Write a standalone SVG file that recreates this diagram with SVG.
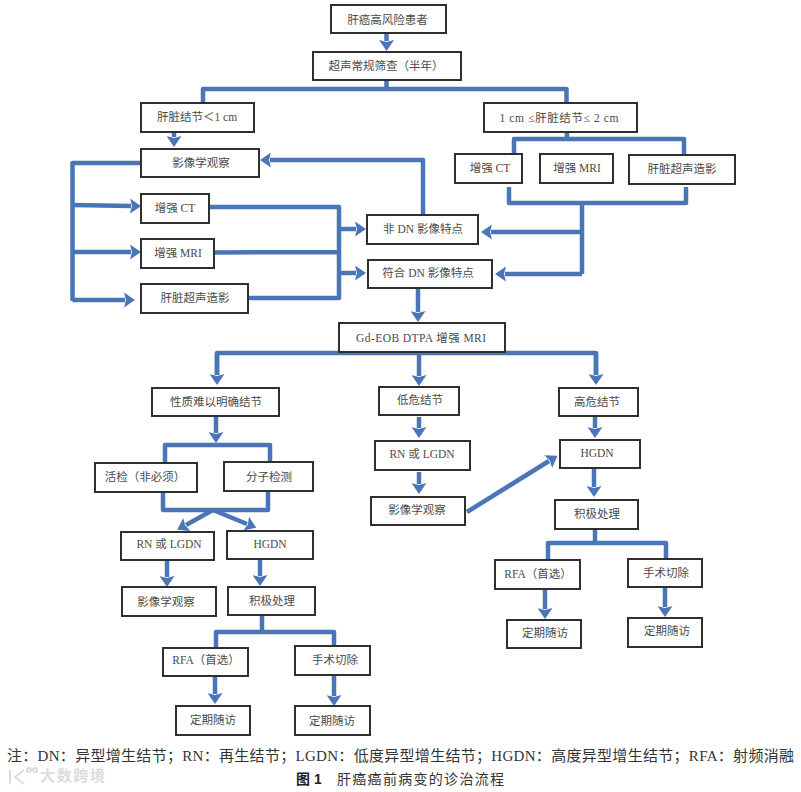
<svg xmlns="http://www.w3.org/2000/svg" width="801" height="792" viewBox="0 0 801 792">
<style>
text{font-family:"Liberation Serif","Noto Sans CJK SC",serif;fill:#4a4a4a}
.n rect{fill:#fff;stroke:#2f2f2f;stroke-width:2}
.n text{font-size:11.5px;text-anchor:middle}
#connectors path{fill:none;stroke:#4a76b8;stroke-width:4.500;stroke-linejoin:round}
.a{marker-end:url(#ah)}
.cap{font-size:15px;fill:#333}
</style>
<defs><marker id="ah" markerUnits="userSpaceOnUse" markerWidth="12" markerHeight="15" viewBox="0 0 12 15" refX="1" refY="7.500" orient="auto"><path d="M0 0L11 7.500L0 15L2 7.500Z" fill="#4a76b8"/></marker></defs>
<rect width="801" height="792" fill="#fff"/>
<g id="connectors">
<path class="a" d="M386.500 33V41"/>
<path d="M386.500 80V89M203 103V89H566.500V103"/>
<path class="a" d="M174 132V137"/>
<path d="M141 163H72.500V301"/>
<path class="a" d="M72.500 205L131 206"/>
<path class="a" d="M72.500 252H131"/>
<path class="a" d="M72.500 300H125"/>
<path d="M208 207H339V298H249M214 252.500L339 252"/>
<path class="a" d="M339 229H356"/>
<path class="a" d="M339 273H356"/>
<path class="a" d="M423 215V160H270"/>
<path class="a" d="M418 288V312"/>
<path d="M567 132V139M514 154V139H684V154"/>
<path d="M509 187V203H686V187M582 203V274"/>
<path class="a" d="M582 232H491"/>
<path class="a" d="M582 274H505"/>
<path d="M217 375V353H596V375"/>
<path class="a" d="M217 353V375"/>
<path class="a" d="M419 353V376"/>
<path class="a" d="M596 353V375"/>
<path class="a" d="M216 416V433"/>
<path d="M165 462V445H270V462"/>
<path d="M163 492V510H268V491"/>
<path class="a" d="M213 510L186 525"/>
<path class="a" d="M213 510L247 524"/>
<path class="a" d="M167 560V577"/>
<path class="a" d="M260 559V576"/>
<path d="M262 615V632M216 648V632H334V646"/>
<path class="a" d="M215 676V694"/>
<path class="a" d="M334 675V696"/>
<path class="a" d="M419 417V428"/>
<path class="a" d="M419 472V484"/>
<path class="a" d="M595 416V428"/>
<path class="a" d="M594 469V487"/>
<path class="a" d="M467 512L549 461"/>
<path d="M595 529V543M548 560V543H666V559"/>
<path class="a" d="M545 589V609"/>
<path class="a" d="M665 587V607"/>
</g>
<g id="n1" class="n"><rect x="331" y="5" width="115" height="28"/><text x="387.500" y="24">肝癌高风险患者</text></g>
<g id="n2" class="n"><rect x="313" y="52" width="148" height="28"/><text x="386" y="70">超声常规筛查（半年）</text></g>
<g id="n3" class="n"><rect x="141" y="103" width="113" height="29"/><text x="197" y="121">肝脏结节＜1 cm</text></g>
<g id="n4" class="n"><rect x="484" y="103" width="153" height="29"/><text x="559" y="122" textLength="119">1 cm ≤肝脏结节≤ 2 cm</text></g>
<g id="n5" class="n"><rect x="141" y="149" width="118" height="28"/><text x="201" y="167">影像学观察</text></g>
<g id="n6" class="n"><rect x="455" y="154" width="67" height="29"/><text x="490" y="172">增强 CT</text></g>
<g id="n7" class="n"><rect x="540" y="154" width="73" height="29"/><text x="577" y="172">增强 MRI</text></g>
<g id="n8" class="n"><rect x="629" y="155" width="106" height="29"/><text x="682" y="173">肝脏超声造影</text></g>
<g id="n9" class="n"><rect x="141" y="194" width="68" height="29"/><text x="175" y="212">增强 CT</text></g>
<g id="n10" class="n"><rect x="141" y="239" width="73" height="29"/><text x="178" y="257">增强 MRI</text></g>
<g id="n11" class="n"><rect x="141" y="284" width="107" height="29"/><text x="195" y="302">肝脏超声造影</text></g>
<g id="n12" class="n"><rect x="367" y="215" width="111" height="29"/><text x="423" y="233">非 DN 影像特点</text></g>
<g id="n13" class="n"><rect x="368" y="260" width="124" height="28"/><text x="428" y="277">符合 DN 影像特点</text></g>
<g id="n14" class="n"><rect x="339" y="323" width="166" height="29"/><text x="421" y="342" textLength="130">Gd-EOB DTPA 增强 MRI</text></g>
<g id="n15" class="n"><rect x="152" y="388" width="127" height="28"/><text x="216" y="406">性质难以明确结节</text></g>
<g id="n16" class="n"><rect x="379" y="387" width="80" height="28"/><text x="420" y="404">低危结节</text></g>
<g id="n17" class="n"><rect x="559" y="388" width="79" height="28"/><text x="597" y="406">高危结节</text></g>
<g id="n18" class="n"><rect x="375" y="441" width="95" height="29"/><text x="422" y="458">RN 或 LGDN</text></g>
<g id="n19" class="n"><rect x="560" y="440" width="80" height="28"/><text x="597" y="457">HGDN</text></g>
<g id="n20" class="n"><rect x="95" y="463" width="102" height="29"/><text x="145" y="481">活检（非必须）</text></g>
<g id="n21" class="n"><rect x="224" y="462" width="89" height="29"/><text x="269" y="481">分子检测</text></g>
<g id="n22" class="n"><rect x="371" y="497" width="94" height="28"/><text x="417" y="514">影像学观察</text></g>
<g id="n23" class="n"><rect x="555" y="500" width="83" height="29"/><text x="597" y="518">积极处理</text></g>
<g id="n24" class="n"><rect x="121" y="532" width="93" height="28"/><text x="169" y="548">RN 或 LGDN</text></g>
<g id="n25" class="n"><rect x="227" y="531" width="86" height="28"/><text x="270" y="548">HGDN</text></g>
<g id="n26" class="n"><rect x="495" y="560" width="85" height="29"/><text x="538" y="578">RFA（首选）</text></g>
<g id="n27" class="n"><rect x="628" y="559" width="74" height="28"/><text x="666" y="577">手术切除</text></g>
<g id="n28" class="n"><rect x="122" y="587" width="94" height="29"/><text x="166" y="606">影像学观察</text></g>
<g id="n29" class="n"><rect x="228" y="587" width="87" height="28"/><text x="272" y="605">积极处理</text></g>
<g id="n30" class="n"><rect x="507" y="620" width="74" height="28"/><text x="545" y="637">定期随访</text></g>
<g id="n31" class="n"><rect x="628" y="618" width="74" height="29"/><text x="667" y="635">定期随访</text></g>
<g id="n32" class="n"><rect x="163" y="648" width="85" height="28"/><text x="206" y="664">RFA（首选）</text></g>
<g id="n33" class="n"><rect x="295" y="646" width="75" height="29"/><text x="335" y="664">手术切除</text></g>
<g id="n34" class="n"><rect x="176" y="706" width="74" height="29"/><text x="213" y="724">定期随访</text></g>
<g id="n35" class="n"><rect x="295" y="706" width="75" height="29"/><text x="332" y="725">定期随访</text></g>
<text class="cap" x="7" y="761" textLength="787" lengthAdjust="spacing">注：DN：异型增生结节；RN：再生结节；LGDN：低度异型增生结节；HGDN：高度异型增生结节；RFA：射频消融</text>
<text x="296" y="784" style="font-family:'Liberation Sans','Noto Sans CJK SC',sans-serif;font-weight:700;font-size:14px;fill:#222">图 1</text>
<text class="cap" x="337" y="784" style="font-size:14px" textLength="167" lengthAdjust="spacing">肝癌癌前病变的诊治流程</text>
<text x="40" y="781" style="font-size:15px;fill:#dcdcdc;font-weight:700" textLength="65">大数跨境</text>
<g fill="none" stroke="#dcdcdc" stroke-width="2"><path d="M10 770V784M24 770L15 777L24 784"/><circle cx="29" cy="770" r="2"/><circle cx="35" cy="770" r="2"/></g>
</svg>
